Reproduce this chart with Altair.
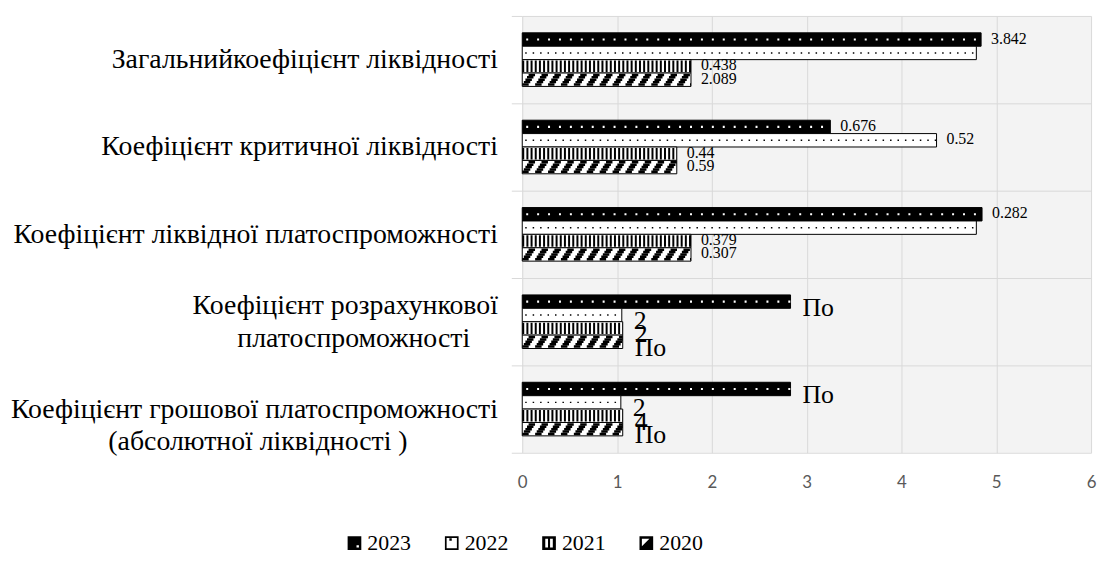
import altair as alt
import pandas as pd

# ---- data ----
categories = [
    "Загальнийкоефіцієнт ліквідності",
    "Коефіцієнт критичної ліквідності",
    "Коефіцієнт ліквідної платоспроможності",
    "Коефіцієнт розрахункової|платоспроможності",
    "Коефіцієнт грошової платоспроможності|(абсолютної ліквідності )",
]
years = ["2023", "2022", "2021", "2020"]
values_2023 = [4.84, 3.25, 4.85, 2.83, 2.83]
values_2022 = [4.79, 4.37, 4.79, 1.05, 1.04]
values_2021 = [1.78, 1.63, 1.78, 1.06, 1.06]
values_2020 = [1.78, 1.63, 1.78, 1.06, 1.06]
labels_2023 = ["3.842", "0.676", "0.282", "По", "По"]
labels_2022 = ["", "0.52", "", "2", "2"]
labels_2021 = ["0.438", "0.44", "0.379", "2", "4"]
labels_2020 = ["2.089", "0.59", "0.307", "По", "По"]
x_ticks = [0, 1, 2, 3, 4, 5, 6]

rows = []
for yr, vals, labs in zip(
    years,
    [values_2023, values_2022, values_2021, values_2020],
    [labels_2023, labels_2022, labels_2021, labels_2020],
):
    for c, v, l in zip(categories, vals, labs):
        rows.append({"cat": c, "year": yr, "value": v, "label": l, "zero": 0,
                     "big": l in ("По", "2", "4")})
df = pd.DataFrame(rows)

SERIF = "Liberation Serif"
GRID = "#d9d9d9"
NB = "\u00a0"
ZW = "\u200b"  # keeps the trailing no-break spaces from being trimmed

# second lines of the two-line labels are centred under the first line
label_expr = (
    "indexof(datum.label, '|') < 0 ? datum.label : "
    "[split(datum.label, '|')[0], split(datum.label, '|')[1] + "
    "(indexof(datum.label, 'розрахунков') >= 0 ? '" + NB * 4 + ZW + "' : '" + NB * 13 + ZW + "')]"
)

xs = alt.Scale(domain=[0, 6], nice=False, zero=True)
y_axis = alt.Axis(
    title=None, labelFont=SERIF, labelFontSize=28, labelColor="black",
    labelLimit=700, labelPadding=14, tickSize=11, tickColor=GRID,
    tickBand="extent", grid=True, gridColor=GRID, domain=False,
    labelExpr=label_expr, labelLineHeight=33,
    labelOffset={"condition": {"test": "indexof(datum.label, 'розрахунков') >= 0",
                               "value": -16}, "value": 0},
)
x_axis = alt.Axis(
    title=None, values=x_ticks, format="d", labelFont="Lato", labelFontSize=17,
    labelColor="#595959", ticks=False, domain=False, grid=True, labelFlush=False,
    gridColor=GRID, labelPadding=22,
)
Y = alt.Y("cat:N", sort=categories,
          scale=alt.Scale(domain=categories, paddingInner=0, paddingOuter=0),
          axis=y_axis)
# empty slots before/after the four years create the gap between groups
offset_domain = ["gap_a"] + years + ["gap_b"]
YO = alt.YOffset("year:N",
                 scale=alt.Scale(domain=offset_domain, paddingInner=0, paddingOuter=0.26))

base = alt.Chart(df)

bars = base.mark_bar(stroke="black", strokeWidth=1).encode(
    x=alt.X("value:Q", scale=xs, axis=x_axis),
    y=Y, yOffset=YO,
    fill=alt.condition(alt.datum.year == "2023", alt.value("#000000"), alt.value("#ffffff")),
)


def rule(year, yoff=None, **mk):
    enc = dict(x=alt.X("zero:Q", scale=xs, title=None), x2=alt.X2("value"), y=Y)
    enc["yOffset"] = YO if yoff is None else alt.value(yoff)
    return base.transform_filter(alt.datum.year == year).mark_rule(**mk).encode(**enc)


dots23 = rule("2023", color="white", strokeWidth=2.2, strokeDash=[2, 9], strokeDashOffset=-4)
dots22 = rule("2022", color="black", strokeWidth=1.5, strokeDash=[1.5, 6], strokeDashOffset=-3)
stripes21 = rule("2021", color="black", strokeWidth=11.5, strokeDash=[2, 2.2])

# diagonal hatch of 2020: five thin dashed rows, each shifted a little
diag20 = []
period = 13.0
for k in range(5):
    d = (4 - k) * 1.6
    diag20.append(rule("2020", yoff=64.25 + (k - 2) * 2.4, color="black",
                       strokeWidth=2.5, strokeDash=[6.5, 6.5],
                       strokeDashOffset=period - d))

small_txt = base.transform_filter("!datum.big && datum.label != ''").mark_text(
    font=SERIF, fontSize=16, color="black", align="left", baseline="middle", dx=10, dy=-1
).encode(x=alt.X("value:Q", scale=xs, title=None), y=Y, yOffset=YO, text="label:N")

big_txt = base.transform_filter("datum.big").mark_text(
    font=SERIF, fontSize=26, color="black", align="left", baseline="middle", dx=12, dy=6
).encode(x=alt.X("value:Q", scale=xs, title=None), y=Y, yOffset=YO, text="label:N")

paths = [
    "M-1,-1H1V1H-1Z M0.3,0.3V0.65H0.65V0.3Z",
    "M-1,-1H1V1H-1Z M-0.75,-0.75V0.75H0.75V-0.75Z M-0.35,-0.7H0V-0.35H-0.35Z",
    "M-1,-1H1V1H-1Z M-0.55,-0.65V0.65H-0.15V-0.65Z M0.15,-0.65V0.65H0.55V-0.65Z",
    "M-1,-1H1V1H-1Z M-0.65,-0.65V0.45L0.45,-0.65Z",
]
legend_layer = base.mark_point(filled=True, size=0, color="black").encode(
    x=alt.X("value:Q", scale=xs, title=None), y=Y, yOffset=YO,
    shape=alt.Shape("year:N", sort=years,
                    scale=alt.Scale(domain=years, range=paths),
                    legend=alt.Legend(title=None, orient="none", legendX=-180, legendY=520,
                                      direction="horizontal", symbolSize=190,
                                      symbolFillColor="black", symbolStrokeWidth=0,
                                      symbolOpacity=1, labelFont=SERIF, labelFontSize=22,
                                      labelColor="black", labelOffset=2, columnPadding=30)),
)

chart = alt.layer(bars, dots23, dots22, stripes21, *diag20, small_txt, big_txt,
                  legend_layer).properties(
    width=573, height=440,
    autosize=alt.AutoSizeParams(type="none"),
    padding={"left": 518, "top": 6, "right": 10, "bottom": 103},
).configure_view(fill="#f3f3f3", stroke=None)

chart.save("out.html", embed_options={"renderer": "svg", "actions": False})
